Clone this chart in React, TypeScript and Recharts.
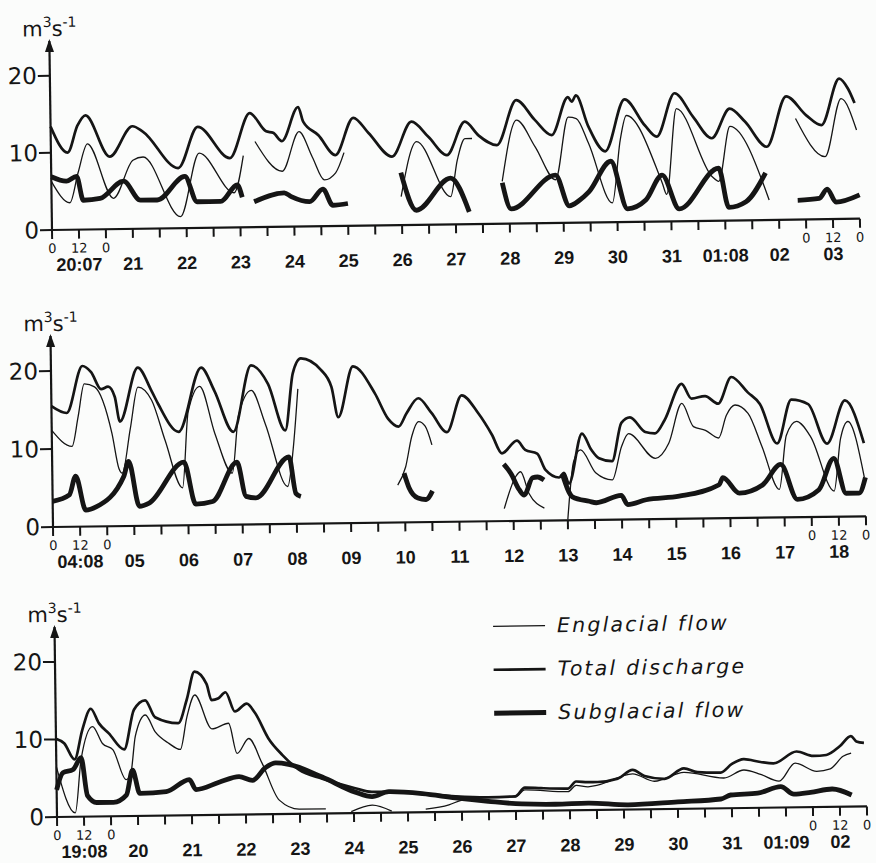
import React from 'react';
import { LineChart, Line, XAxis, YAxis, ReferenceDot, Legend } from 'recharts';

// [day offset from panel start, m3/s]; null = break in the record
type Pt = [number, number] | null;

const p1Days = ['20:07', '21', '22', '23', '24', '25', '26', '27', '28', '29', '30', '31', '01:08', '02', '03'];
const p2Days = ['04:08', '05', '06', '07', '08', '09', '10', '11', '12', '13', '14', '15', '16', '17', '18'];
const p3Days = ['19:08', '20', '21', '22', '23', '24', '25', '26', '27', '28', '29', '30', '31', '01:09', '02'];

const yTicks = [0, 10, 20];
const halfDays = [0, 0.5, 1, 1.5, 2, 2.5, 3, 3.5, 4, 4.5, 5, 5.5, 6, 6.5, 7, 7.5, 8, 8.5, 9, 9.5, 10, 10.5, 11, 11.5, 12, 12.5, 13, 13.5, 14, 14.5, 15];

// panel 1 : 20 July - 3 August
const p1Englacial: Pt[] = [
  [0, 6.3], [0.34, 3.5], [0.5, 7.4], [0.68, 11.1], [1.15, 4.0], [1.52, 8.9], [1.71, 9.3], [2.39, 1.5], [2.75, 9.7],
  [3.39, 4.5], [3.57, 9.3], null,
  [3.79, 11.1], [4.29, 7.2], [4.61, 12.3], [4.85, 9.0], [5.07, 6.0], [5.28, 6.9], [5.44, 9.5], null,
  [6.49, 3.7], [6.79, 10.8], [7.41, 3.6], [7.54, 8.3], [7.69, 11.1], [7.82, 11.1], null,
  [8.37, 5.5], [8.65, 13.4], [8.99, 9.9], [9.36, 5.6], [9.61, 13.7], [9.76, 13.5], [9.98, 10.3], [10.41, 2.5],
  [10.57, 10.6], [10.69, 13.8], [11.34, 5.0], [11.42, 3.5], [11.62, 14.6], [12.27, 5.7], [12.39, 5.1], [12.61, 12.2],
  [13.32, 2.6], null,
  [13.83, 13.1], [14.37, 8.1], [14.68, 15.6], [14.96, 11.5],
];
const p1Total: Pt[] = [
  [0, 13.4], [0.31, 10.0], [0.5, 13.5], [0.65, 14.8], [1.09, 9.4], [1.52, 13.3], [1.71, 12.6], [2.36, 7.8], [2.73, 13.1],
  [3.32, 9.0], [3.7, 14.8], [4.0, 12.4], [4.13, 12.2], [4.29, 11.1], [4.6, 15.5], [4.69, 13.6], [4.97, 11.8], [5.28, 9.2],
  [5.62, 14.0], [5.9, 12.0], [6.33, 8.9], [6.7, 13.4], [7.01, 11.4], [7.35, 9.0], [7.69, 13.3], [7.94, 11.5], [8.28, 10.2],
  [8.65, 16.0], [8.99, 13.4], [9.3, 11.4], [9.61, 16.3], [9.68, 15.7], [9.76, 16.5], [9.98, 12.5], [10.29, 9.2],
  [10.66, 15.9], [11.03, 12.5], [11.25, 11.0], [11.59, 16.6], [11.93, 13.5], [12.27, 10.7], [12.61, 14.5], [12.89, 12.8],
  [13.29, 9.5], [13.66, 16.0], [14.03, 13.5], [14.31, 12.2], [14.65, 18.2], [14.81, 16.9], [14.93, 15.0],
];
const p1Subglacial: Pt[] = [
  [0, 6.9], [0.28, 6.3], [0.47, 6.9], [0.59, 3.8], [0.9, 4.0], [1.34, 6.2], [1.65, 3.7], [1.96, 3.7], [2.48, 6.7],
  [2.7, 3.4], [3.14, 3.4], [3.45, 5.5], [3.54, 3.9], null,
  [3.76, 3.3], [4.32, 4.4], [4.45, 3.9], [4.79, 3.2], [5.04, 4.8], [5.22, 2.7], [5.5, 2.9], null,
  [6.49, 6.8], [6.77, 1.9], [7.41, 6.0], [7.75, 1.6], null,
  [8.37, 5.3], [8.53, 1.9], [9.36, 6.2], [9.61, 2.2], [9.8, 2.9], [9.98, 4.0], [10.39, 7.9], [10.69, 1.7], [11.03, 2.8],
  [11.34, 6.0], [11.65, 1.6], [12.39, 6.8], [12.57, 1.7], [12.89, 2.4], [13.26, 6.1], null,
  [13.85, 2.5], [14.25, 2.7], [14.4, 3.9], [14.56, 2.2], [15.0, 3.1],
];

// panel 2 : 4 - 18 August
const p2Englacial: Pt[] = [
  [0, 12.4], [0.37, 10.3], [0.49, 14.1], [0.61, 18.3], [0.8, 17.9], [1.11, 11.9], [1.23, 7.4], [1.29, 6.8], [1.45, 12.5],
  [1.6, 17.8], [1.85, 16.1], [2.09, 10.9], [2.4, 4.8], [2.52, 14.5], [2.74, 17.8], [3.01, 11.7], [3.32, 6.6], [3.45, 14.0],
  [3.69, 17.2], [3.94, 12.9], [4.34, 4.8], [4.45, 9.6], [4.55, 17.3], null,
  [6.37, 4.8], [6.52, 7.1], [6.64, 11.0], [6.77, 12.9], [6.89, 12.3], [7.01, 9.9], null,
  [8.33, 1.6], [8.55, 5.7], [8.64, 6.3], [8.79, 3.5], [9.07, 1.6], null,
  [9.5, 0.1], [9.62, 7.5], [9.75, 9.0], [10.03, 6.0], [10.33, 5.1], [10.51, 9.4], [10.64, 11.0], [11.13, 7.8],
  [11.38, 9.7], [11.63, 14.8], [11.84, 11.8], [12.06, 11.3], [12.3, 10.3], [12.45, 13.2], [12.61, 14.5], [12.85, 13.4],
  [13.1, 9.1], [13.41, 3.6], [13.55, 10.5], [13.74, 12.3], [14.0, 10.3], [14.42, 3.3], [14.55, 10.0], [14.69, 12.2],
  [14.98, 5.0],
];
const p2Total: Pt[] = [
  [0, 15.5], [0.28, 14.6], [0.58, 20.6], [0.74, 19.8], [0.92, 17.6], [1.05, 17.9], [1.17, 16.6], [1.26, 13.4], [1.6, 20.3],
  [1.85, 17.3], [1.97, 15.6], [2.34, 12.0], [2.77, 20.2], [3.01, 17.2], [3.35, 11.9], [3.69, 20.4], [4.0, 18.0],
  [4.31, 12.0], [4.46, 19.3], [4.61, 21.2], [4.98, 19.7], [5.17, 17.5], [5.29, 13.6], [5.57, 20.1], [5.97, 16.6],
  [6.21, 13.3], [6.4, 12.3], [6.55, 14.0], [6.77, 15.9], [7.01, 14.0], [7.29, 11.5], [7.57, 16.2], [7.87, 13.9],
  [8.12, 11.1], [8.3, 8.7], [8.58, 10.3], [8.73, 9.1], [8.95, 8.6], [9.1, 6.5], [9.35, 5.5], [9.44, 6.1], [9.53, 4.7],
  [9.78, 11.1], [9.95, 9.0], [10.09, 7.9], [10.33, 7.5], [10.51, 12.4], [10.67, 13.1], [10.95, 11.2], [11.13, 11.0],
  [11.31, 12.7], [11.63, 17.3], [11.81, 15.4], [12.06, 15.7], [12.3, 14.7], [12.55, 18.1], [12.85, 16.1], [13.07, 14.6],
  [13.38, 9.5], [13.65, 15.1], [13.96, 14.5], [14.3, 9.4], [14.64, 14.9], [14.98, 9.4],
];
const p2Subglacial: Pt[] = [
  [0, 3.3], [0.31, 4.1], [0.43, 6.5], [0.61, 2.1], [0.8, 2.5], [1.32, 6.4], [1.41, 8.3], [1.6, 2.5], [1.78, 2.9],
  [2.43, 8.1], [2.64, 2.7], [2.95, 3.0], [3.41, 8.0], [3.57, 3.6], [3.75, 3.4], [4.37, 8.6], [4.49, 3.9], [4.58, 3.5], null,
  [6.49, 6.3], [6.58, 4.4], [6.74, 3.1], [6.89, 2.9], [7.01, 4.0], null,
  [8.33, 7.3], [8.46, 6.1], [8.61, 4.0], [8.7, 3.3], [8.86, 5.5], [8.95, 5.6], [9.07, 5.2], null,
  [9.41, 5.9], [9.59, 3.0], [9.9, 2.4], [10.03, 2.2], [10.49, 3.1], [10.61, 1.9], [10.95, 2.5], [11.56, 2.9],
  [12.3, 4.3], [12.37, 5.2], [12.67, 3.2], [13.1, 4.2], [13.44, 6.8], [13.74, 2.3], [14.14, 3.5], [14.42, 7.5],
  [14.64, 3.0], [14.88, 3.0], [15.0, 5.0],
];

// panel 3 : 19 August - 2 September
const p3Englacial: Pt[] = [
  [0, 6.5], [0.34, 0.5], [0.46, 7.4], [0.68, 11.6], [0.86, 9.4], [1.05, 8.6], [1.29, 4.7], [1.38, 5.6], [1.47, 10.3],
  [1.66, 13.0], [1.84, 10.8], [2.09, 9.3], [2.3, 8.5], [2.43, 12.7], [2.58, 15.5], [2.89, 11.1], [3.2, 11.8], [3.35, 7.9],
  [3.57, 9.8], [3.81, 6.6], [4.12, 1.8], [4.49, 0.6], [4.98, 0.6], null,
  [5.45, 0.2], [5.84, 1.0], [6.2, 0.2], null,
  [6.83, 0.4], [7.26, 0.9], [7.5, 1.5], [7.99, 1.8], [8.49, 1.8], [8.67, 2.7], [9.47, 2.4], [9.62, 3.2], [9.84, 3.0],
  [10.02, 3.2], [10.67, 4.6], [11.07, 3.6], [11.62, 4.7], [12.36, 3.9], [12.73, 4.9], [13.04, 4.3], [13.38, 3.4],
  [13.68, 5.7], [14.08, 4.6], [14.33, 4.9], [14.57, 6.5], [14.72, 6.9],
];
const p3Total: Pt[] = [
  [0, 10.1], [0.15, 9.5], [0.34, 7.4], [0.49, 11.2], [0.65, 13.9], [0.8, 12.0], [0.98, 10.7], [1.26, 8.6], [1.45, 13.7],
  [1.66, 14.9], [1.84, 12.7], [2.27, 11.9], [2.43, 14.9], [2.58, 18.5], [2.8, 16.9], [2.89, 14.8], [3.01, 15.0],
  [3.15, 15.8], [3.32, 13.3], [3.54, 14.3], [3.69, 13.1], [3.94, 9.7], [4.19, 7.6], [4.49, 5.7], [4.92, 4.5],
  [5.53, 3.2], [5.84, 2.7], [6.15, 2.7], [6.77, 2.4], [7.38, 2.0], [7.99, 1.8], [8.49, 1.9], [8.67, 3.0], [8.97, 2.9],
  [9.47, 2.8], [9.62, 3.7], [9.84, 3.6], [10.02, 3.6], [10.39, 4.0], [10.67, 5.1], [10.89, 4.3], [11.26, 3.9],
  [11.62, 5.2], [11.87, 4.7], [12.3, 4.6], [12.51, 5.7], [12.73, 6.3], [13.04, 5.9], [13.28, 5.7], [13.71, 7.2],
  [14.02, 6.6], [14.26, 6.7], [14.51, 7.8], [14.72, 9.1], [14.82, 8.4], [14.96, 8.2],
];
const p3Subglacial: Pt[] = [
  [0, 3.5], [0.12, 5.7], [0.31, 6.1], [0.46, 7.6], [0.57, 2.7], [0.74, 1.8], [1.05, 1.8], [1.29, 2.7], [1.41, 5.9],
  [1.54, 2.9], [2.03, 3.1], [2.46, 4.6], [2.58, 3.3], [3.01, 4.2], [3.38, 4.9], [3.63, 4.4], [3.87, 6.0], [4.06, 6.6],
  [4.3, 6.4], [4.92, 4.7], [5.53, 2.7], [5.84, 2.1], [6.15, 2.7], [6.77, 2.4], [7.38, 1.8], [7.99, 1.3], [8.61, 0.9],
  [9.23, 0.8], [9.84, 0.9], [10.58, 0.6], [11.5, 0.9], [12.3, 1.2], [12.48, 1.7], [12.98, 1.9], [13.41, 2.7],
  [13.65, 1.7], [13.96, 1.9], [14.36, 2.3], [14.72, 1.5],
];

const INK = '#151515';
const AXIS_H = 44;

const toRows = (pts: Pt[]) => {
  const rows: { t: number; v: number | null }[] = [];
  let last = 0;
  pts.forEach((p) => {
    if (p) {
      rows.push({ t: p[0], v: p[1] });
      last = p[0];
    } else {
      rows.push({ t: last, v: null });
    }
  });
  return rows;
};

const DayTick = (props: any) => {
  const { x, y, payload, days } = props;
  const idx = Math.round(payload.value * 2);
  const small = idx <= 2 || idx >= 28;
  return (
    <g>
      {small && (
        <text x={x} y={y + 12} textAnchor="middle" fontFamily="DejaVu Sans" fontSize={13} fill={INK}>
          {idx % 2 ? '12' : '0'}
        </text>
      )}
      {idx % 2 === 1 && (
        <text x={x} y={y + 30} textAnchor="middle" fontFamily="Liberation Sans" fontWeight="bold" fontSize={18} fill={INK}>
          {days[(idx - 1) / 2]}
        </text>
      )}
    </g>
  );
};

const ValueTick = (props: any) => (
  <text x={props.x + 1} y={props.y + 8} textAnchor="end" fontFamily="DejaVu Sans" fontSize={23} fill={INK}>
    {props.payload.value}
  </text>
);

const AxisArrow = (props: any) => {
  const { cx, cy } = props;
  return (
    <g>
      <path d={`M${cx},${cy - 2} L${cx - 4.5},${cy + 11} L${cx + 4.5},${cy + 11} Z`} fill={INK} />
      <text x={cx - 27} y={cy - 5} fontFamily="DejaVu Sans" fontSize={21} fill={INK}>
        m<tspan dy={-9} fontSize={14}>3</tspan>
        <tspan dy={9} fontSize={21}>s</tspan>
        <tspan dy={-9} fontSize={14}>-1</tspan>
      </text>
    </g>
  );
};

const legendRows = [
  { name: 'Englacial flow', width: 1.3 },
  { name: 'Total discharge', width: 2.7 },
  { name: 'Subglacial flow', width: 5 },
];

const LegendBox = () => (
  <svg width={300} height={130}>
    {legendRows.map((r, i) => (
      <g key={r.name}>
        <line x1={5.5} x2={57.5} y1={17 + i * 43.5} y2={17 + i * 43.5} stroke={INK} strokeWidth={r.width} />
        <text
          x={69.5}
          y={23.7 + i * 43.5}
          fontFamily="DejaVu Sans"
          fontStyle="italic"
          fontSize={20.5}
          letterSpacing={2.2}
          fill={INK}
        >
          {r.name}
        </text>
      </g>
    ))}
  </svg>
);

interface PanelProps {
  top: number;
  height: number;
  plotTop: number;
  left: number;
  right: number;
  tilt: number;
  days: string[];
  eng: Pt[];
  total: Pt[];
  sub: Pt[];
  legend?: boolean;
}

const Panel = ({ top, height, plotTop, left, right, tilt, days, eng, total, sub, legend }: PanelProps) => (
  <div
    style={{
      position: 'absolute',
      left: 0,
      top,
      width: 876,
      height,
      transform: `rotate(${-tilt}deg)`,
      transformOrigin: `${left}px ${height - AXIS_H}px`,
    }}
  >
    <LineChart width={876} height={height} margin={{ top: plotTop, right, bottom: 0, left: 0 }}>
      <XAxis
        type="number"
        dataKey="t"
        domain={[0, 15]}
        ticks={halfDays}
        interval={0}
        height={AXIS_H}
        tickSize={9}
        axisLine={{ stroke: INK, strokeWidth: 2.2 }}
        tickLine={{ stroke: INK, strokeWidth: 2 }}
        tick={(p: any) => <DayTick {...p} days={days} />}
      />
      <YAxis
        type="number"
        domain={[0, 24.5]}
        ticks={yTicks}
        interval={0}
        width={left}
        tickSize={12}
        axisLine={{ stroke: INK, strokeWidth: 2.2 }}
        tickLine={{ stroke: INK, strokeWidth: 2 }}
        tick={<ValueTick />}
      />
      <Line data={toRows(eng)} dataKey="v" type="monotone" stroke={INK} strokeWidth={1.3} dot={false} activeDot={false} isAnimationActive={false} />
      <Line data={toRows(total)} dataKey="v" type="monotone" stroke={INK} strokeWidth={2.7} dot={false} activeDot={false} isAnimationActive={false} />
      <Line data={toRows(sub)} dataKey="v" type="monotone" stroke={INK} strokeWidth={4.8} dot={false} activeDot={false} isAnimationActive={false} />
      <ReferenceDot x={0} y={24.5} ifOverflow="visible" shape={(p: any) => <AxisArrow {...p} />} />
      {legend && (
        <Legend
          layout="vertical"
          align="center"
          verticalAlign="middle"
          wrapperStyle={{ left: 490, top: 40, width: 300, height: 130 }}
          content={() => <LegendBox />}
        />
      )}
    </LineChart>
  </div>
);

export default function App() {
  return (
    <div style={{ position: 'absolute', left: 0, top: 0, width: 876, height: 863, background: '#fbfcfb', overflow: 'hidden' }}>
      <Panel top={0} height={274} plotTop={41} left={52} right={16} tilt={0.8} days={p1Days} eng={p1Englacial} total={p1Total} sub={p1Subglacial} />
      <Panel top={290} height={281} plotTop={46} left={53} right={10} tilt={0.75} days={p2Days} eng={p2Englacial} total={p2Total} sub={p2Subglacial} />
      <Panel top={575} height={286} plotTop={52} left={57} right={9} tilt={0.75} days={p3Days} eng={p3Englacial} total={p3Total} sub={p3Subglacial} legend />
    </div>
  );
}
